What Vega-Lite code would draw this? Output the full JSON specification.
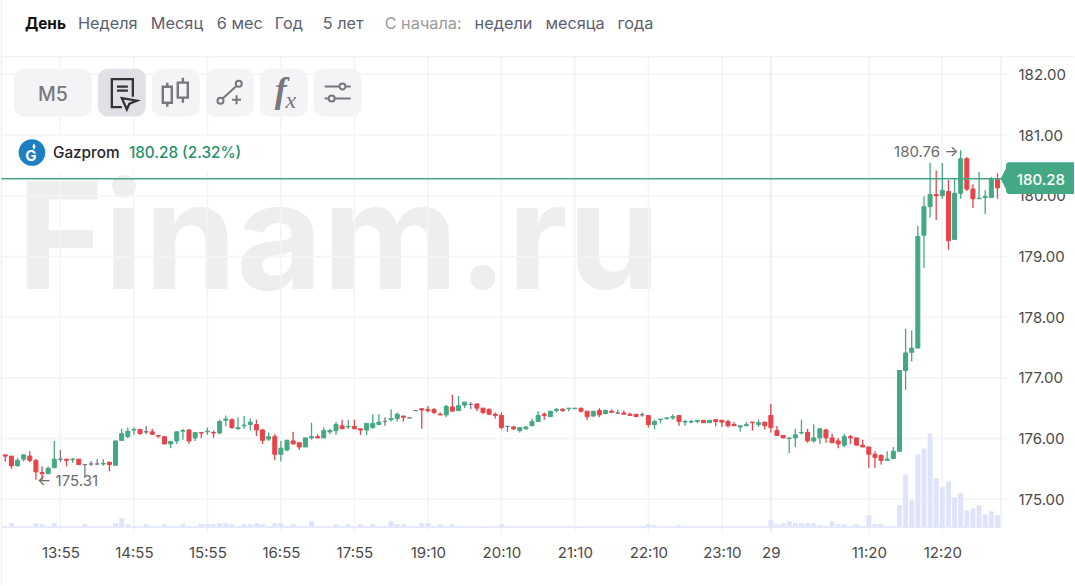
{"$schema":"https://vega.github.io/schema/vega-lite/v6.json","autosize":{"type":"fit","contains":"padding"},"width":1075,"height":586,"padding":0,"background":"#ffffff","view":{"stroke":null},"config":{"font":"Inter","view":{"stroke":null}},
"datasets":{
"prices":[{"p":175},{"p":176},{"p":177},{"p":178},{"p":179},{"p":180},{"p":181},{"p":182}],
"times":[{"i":9},{"i":21},{"i":33},{"i":45},{"i":57},{"i":69},{"i":81},{"i":93},{"i":105},{"i":117},{"i":141},{"i":153}],
"candles":[
{"i":0,"o":175.73,"c":175.71,"h":175.73,"l":175.62,"v":1,"d":"down"},
{"i":1,"o":175.71,"c":175.55,"h":175.71,"l":175.50,"v":4,"d":"down"},
{"i":2,"o":175.55,"c":175.64,"h":175.68,"l":175.54,"v":1,"d":"up"},
{"i":3,"o":175.66,"c":175.73,"h":175.74,"l":175.62,"v":1,"d":"up"},
{"i":4,"o":175.71,"c":175.64,"h":175.79,"l":175.61,"v":1,"d":"down"},
{"i":5,"o":175.64,"c":175.45,"h":175.66,"l":175.32,"v":4,"d":"down"},
{"i":6,"o":175.44,"c":175.42,"h":175.54,"l":175.31,"v":3,"d":"down"},
{"i":7,"o":175.42,"c":175.51,"h":175.54,"l":175.41,"v":1,"d":"up"},
{"i":8,"o":175.52,"c":175.66,"h":175.96,"l":175.51,"v":4,"d":"up"},
{"i":9,"o":175.66,"c":175.66,"h":175.81,"l":175.61,"v":1,"d":"flat"},
{"i":10,"o":175.66,"c":175.64,"h":175.66,"l":175.54,"v":1,"d":"down"},
{"i":11,"o":175.65,"c":175.66,"h":175.68,"l":175.60,"v":1,"d":"up"},
{"i":12,"o":175.66,"c":175.57,"h":175.66,"l":175.57,"v":1,"d":"down"},
{"i":13,"o":175.57,"c":175.57,"h":175.58,"l":175.37,"v":3,"d":"flat"},
{"i":14,"o":175.58,"c":175.58,"h":175.63,"l":175.55,"v":1,"d":"flat"},
{"i":15,"o":175.58,"c":175.58,"h":175.66,"l":175.56,"v":1,"d":"flat"},
{"i":16,"o":175.58,"c":175.59,"h":175.66,"l":175.55,"v":1,"d":"up"},
{"i":17,"o":175.61,"c":175.57,"h":175.61,"l":175.46,"v":1,"d":"down"},
{"i":18,"o":175.56,"c":175.96,"h":175.96,"l":175.55,"v":4,"d":"up"},
{"i":19,"o":175.97,"c":176.08,"h":176.16,"l":175.96,"v":9,"d":"up"},
{"i":20,"o":176.03,"c":176.12,"h":176.18,"l":176.01,"v":3,"d":"up"},
{"i":21,"o":176.14,"c":176.15,"h":176.18,"l":176.06,"v":1,"d":"up"},
{"i":22,"o":176.15,"c":176.08,"h":176.15,"l":176.06,"v":1,"d":"down"},
{"i":23,"o":176.11,"c":176.11,"h":176.20,"l":176.07,"v":3,"d":"flat"},
{"i":24,"o":176.11,"c":176.07,"h":176.16,"l":176.06,"v":1,"d":"down"},
{"i":25,"o":176.05,"c":176.04,"h":176.05,"l":176.01,"v":1,"d":"down"},
{"i":26,"o":176.03,"c":175.91,"h":176.03,"l":175.91,"v":3,"d":"down"},
{"i":27,"o":175.91,"c":175.95,"h":175.95,"l":175.84,"v":1,"d":"up"},
{"i":28,"o":175.96,"c":176.11,"h":176.12,"l":175.91,"v":1,"d":"up"},
{"i":29,"o":176.12,"c":176.13,"h":176.16,"l":175.98,"v":3,"d":"up"},
{"i":30,"o":176.14,"c":175.96,"h":176.16,"l":175.91,"v":1,"d":"down"},
{"i":31,"o":176.01,"c":176.10,"h":176.10,"l":175.96,"v":1,"d":"up"},
{"i":32,"o":176.10,"c":176.09,"h":176.10,"l":176.01,"v":3,"d":"down"},
{"i":33,"o":176.11,"c":176.12,"h":176.18,"l":176.06,"v":3,"d":"up"},
{"i":34,"o":176.10,"c":176.09,"h":176.13,"l":176.01,"v":3,"d":"down"},
{"i":35,"o":176.09,"c":176.28,"h":176.31,"l":176.07,"v":4,"d":"up"},
{"i":36,"o":176.30,"c":176.32,"h":176.38,"l":176.20,"v":4,"d":"up"},
{"i":37,"o":176.31,"c":176.18,"h":176.33,"l":176.16,"v":3,"d":"down"},
{"i":38,"o":176.16,"c":176.18,"h":176.35,"l":176.15,"v":1,"d":"up"},
{"i":39,"o":176.21,"c":176.22,"h":176.37,"l":176.16,"v":3,"d":"up"},
{"i":40,"o":176.23,"c":176.27,"h":176.33,"l":176.13,"v":3,"d":"up"},
{"i":41,"o":176.23,"c":176.14,"h":176.31,"l":176.04,"v":4,"d":"down"},
{"i":42,"o":176.14,"c":175.97,"h":176.16,"l":175.91,"v":3,"d":"down"},
{"i":43,"o":175.99,"c":176.03,"h":176.10,"l":175.96,"v":1,"d":"up"},
{"i":44,"o":176.03,"c":175.74,"h":176.07,"l":175.64,"v":4,"d":"down"},
{"i":45,"o":175.74,"c":175.84,"h":175.96,"l":175.62,"v":4,"d":"up"},
{"i":46,"o":175.81,"c":175.97,"h":175.98,"l":175.79,"v":1,"d":"up"},
{"i":47,"o":175.96,"c":175.91,"h":176.11,"l":175.91,"v":3,"d":"down"},
{"i":48,"o":175.93,"c":175.86,"h":175.93,"l":175.81,"v":1,"d":"down"},
{"i":49,"o":175.86,"c":176.01,"h":176.01,"l":175.86,"v":1,"d":"up"},
{"i":50,"o":176.01,"c":176.03,"h":176.26,"l":175.98,"v":6,"d":"up"},
{"i":51,"o":176.03,"c":176.01,"h":176.07,"l":176.01,"v":1,"d":"down"},
{"i":52,"o":176.01,"c":176.13,"h":176.18,"l":176.01,"v":1,"d":"up"},
{"i":53,"o":176.11,"c":176.13,"h":176.16,"l":176.07,"v":1,"d":"up"},
{"i":54,"o":176.13,"c":176.23,"h":176.27,"l":176.06,"v":3,"d":"up"},
{"i":55,"o":176.21,"c":176.16,"h":176.31,"l":176.16,"v":1,"d":"down"},
{"i":56,"o":176.19,"c":176.20,"h":176.31,"l":176.16,"v":3,"d":"up"},
{"i":57,"o":176.20,"c":176.16,"h":176.31,"l":176.16,"v":1,"d":"down"},
{"i":58,"o":176.16,"c":176.14,"h":176.16,"l":176.06,"v":3,"d":"down"},
{"i":59,"o":176.14,"c":176.25,"h":176.25,"l":176.06,"v":1,"d":"up"},
{"i":60,"o":176.18,"c":176.25,"h":176.40,"l":176.16,"v":3,"d":"up"},
{"i":61,"o":176.23,"c":176.27,"h":176.40,"l":176.22,"v":1,"d":"up"},
{"i":62,"o":176.28,"c":176.28,"h":176.35,"l":176.21,"v":1,"d":"flat"},
{"i":63,"o":176.31,"c":176.33,"h":176.48,"l":176.28,"v":6,"d":"up"},
{"i":64,"o":176.33,"c":176.40,"h":176.43,"l":176.28,"v":3,"d":"up"},
{"i":65,"o":176.37,"c":176.35,"h":176.37,"l":176.28,"v":3,"d":"down"},
{"i":66,"o":176.34,"c":176.34,"h":176.34,"l":176.34,"v":1,"d":"flat"},
{"i":67,"o":176.46,"c":176.46,"h":176.46,"l":176.46,"v":1,"d":"flat"},
{"i":68,"o":176.49,"c":176.47,"h":176.50,"l":176.16,"v":4,"d":"down"},
{"i":69,"o":176.48,"c":176.46,"h":176.53,"l":176.43,"v":4,"d":"down"},
{"i":70,"o":176.48,"c":176.43,"h":176.50,"l":176.40,"v":1,"d":"down"},
{"i":71,"o":176.40,"c":176.39,"h":176.43,"l":176.38,"v":3,"d":"down"},
{"i":72,"o":176.39,"c":176.53,"h":176.55,"l":176.35,"v":1,"d":"up"},
{"i":73,"o":176.52,"c":176.45,"h":176.72,"l":176.45,"v":3,"d":"down"},
{"i":74,"o":176.46,"c":176.54,"h":176.70,"l":176.45,"v":1,"d":"up"},
{"i":75,"o":176.55,"c":176.60,"h":176.60,"l":176.50,"v":1,"d":"up"},
{"i":76,"o":176.56,"c":176.56,"h":176.60,"l":176.48,"v":1,"d":"flat"},
{"i":77,"o":176.57,"c":176.50,"h":176.57,"l":176.45,"v":1,"d":"down"},
{"i":78,"o":176.50,"c":176.43,"h":176.50,"l":176.40,"v":1,"d":"down"},
{"i":79,"o":176.48,"c":176.40,"h":176.50,"l":176.39,"v":1,"d":"down"},
{"i":80,"o":176.40,"c":176.38,"h":176.43,"l":176.33,"v":1,"d":"down"},
{"i":81,"o":176.38,"c":176.18,"h":176.43,"l":176.15,"v":3,"d":"down"},
{"i":82,"o":176.20,"c":176.20,"h":176.20,"l":176.11,"v":1,"d":"flat"},
{"i":83,"o":176.19,"c":176.16,"h":176.21,"l":176.14,"v":1,"d":"down"},
{"i":84,"o":176.13,"c":176.18,"h":176.18,"l":176.10,"v":1,"d":"up"},
{"i":85,"o":176.16,"c":176.19,"h":176.20,"l":176.15,"v":1,"d":"up"},
{"i":86,"o":176.21,"c":176.28,"h":176.33,"l":176.20,"v":1,"d":"up"},
{"i":87,"o":176.28,"c":176.38,"h":176.45,"l":176.28,"v":1,"d":"up"},
{"i":88,"o":176.40,"c":176.38,"h":176.43,"l":176.31,"v":1,"d":"down"},
{"i":89,"o":176.36,"c":176.45,"h":176.45,"l":176.36,"v":1,"d":"up"},
{"i":90,"o":176.46,"c":176.48,"h":176.50,"l":176.43,"v":1,"d":"up"},
{"i":91,"o":176.48,"c":176.46,"h":176.50,"l":176.44,"v":1,"d":"down"},
{"i":92,"o":176.49,"c":176.50,"h":176.50,"l":176.45,"v":1,"d":"up"},
{"i":93,"o":176.49,"c":176.50,"h":176.50,"l":176.49,"v":1,"d":"up"},
{"i":94,"o":176.50,"c":176.45,"h":176.50,"l":176.43,"v":1,"d":"down"},
{"i":95,"o":176.45,"c":176.36,"h":176.45,"l":176.30,"v":1,"d":"down"},
{"i":96,"o":176.37,"c":176.45,"h":176.45,"l":176.36,"v":1,"d":"up"},
{"i":97,"o":176.46,"c":176.39,"h":176.50,"l":176.35,"v":1,"d":"down"},
{"i":98,"o":176.41,"c":176.46,"h":176.48,"l":176.40,"v":1,"d":"up"},
{"i":99,"o":176.45,"c":176.43,"h":176.48,"l":176.43,"v":1,"d":"down"},
{"i":100,"o":176.42,"c":176.42,"h":176.47,"l":176.40,"v":1,"d":"flat"},
{"i":101,"o":176.42,"c":176.40,"h":176.46,"l":176.40,"v":1,"d":"down"},
{"i":102,"o":176.40,"c":176.38,"h":176.43,"l":176.38,"v":1,"d":"down"},
{"i":103,"o":176.40,"c":176.36,"h":176.40,"l":176.36,"v":1,"d":"down"},
{"i":104,"o":176.39,"c":176.39,"h":176.43,"l":176.36,"v":1,"d":"flat"},
{"i":105,"o":176.38,"c":176.23,"h":176.38,"l":176.18,"v":3,"d":"down"},
{"i":106,"o":176.23,"c":176.28,"h":176.31,"l":176.15,"v":2,"d":"up"},
{"i":107,"o":176.31,"c":176.32,"h":176.32,"l":176.25,"v":1,"d":"up"},
{"i":108,"o":176.33,"c":176.34,"h":176.34,"l":176.31,"v":1,"d":"up"},
{"i":109,"o":176.34,"c":176.36,"h":176.40,"l":176.31,"v":1,"d":"up"},
{"i":110,"o":176.38,"c":176.28,"h":176.38,"l":176.21,"v":2,"d":"down"},
{"i":111,"o":176.27,"c":176.28,"h":176.31,"l":176.21,"v":1,"d":"up"},
{"i":112,"o":176.27,"c":176.28,"h":176.31,"l":176.25,"v":1,"d":"up"},
{"i":113,"o":176.28,"c":176.30,"h":176.30,"l":176.25,"v":1,"d":"up"},
{"i":114,"o":176.30,"c":176.26,"h":176.30,"l":176.26,"v":1,"d":"down"},
{"i":115,"o":176.26,"c":176.30,"h":176.30,"l":176.26,"v":1,"d":"up"},
{"i":116,"o":176.31,"c":176.28,"h":176.31,"l":176.20,"v":1,"d":"down"},
{"i":117,"o":176.30,"c":176.27,"h":176.31,"l":176.19,"v":1,"d":"down"},
{"i":118,"o":176.28,"c":176.21,"h":176.31,"l":176.18,"v":1,"d":"down"},
{"i":119,"o":176.23,"c":176.21,"h":176.27,"l":176.21,"v":1,"d":"down"},
{"i":120,"o":176.19,"c":176.21,"h":176.21,"l":176.11,"v":1,"d":"up"},
{"i":121,"o":176.21,"c":176.23,"h":176.27,"l":176.21,"v":1,"d":"up"},
{"i":122,"o":176.27,"c":176.26,"h":176.27,"l":176.13,"v":1,"d":"down"},
{"i":123,"o":176.23,"c":176.26,"h":176.31,"l":176.19,"v":1,"d":"up"},
{"i":124,"o":176.27,"c":176.21,"h":176.27,"l":176.15,"v":1,"d":"down"},
{"i":125,"o":176.38,"c":176.18,"h":176.57,"l":176.10,"v":7,"d":"down"},
{"i":126,"o":176.13,"c":176.05,"h":176.21,"l":176.04,"v":3,"d":"down"},
{"i":127,"o":176.05,"c":176.01,"h":176.05,"l":176.01,"v":4,"d":"down"},
{"i":128,"o":176.00,"c":176.01,"h":176.01,"l":175.76,"v":6,"d":"up"},
{"i":129,"o":176.01,"c":176.06,"h":176.16,"l":175.86,"v":4,"d":"up"},
{"i":130,"o":176.09,"c":176.10,"h":176.31,"l":176.07,"v":4,"d":"up"},
{"i":131,"o":176.10,"c":175.96,"h":176.16,"l":175.93,"v":4,"d":"down"},
{"i":132,"o":175.96,"c":176.01,"h":176.23,"l":175.93,"v":4,"d":"up"},
{"i":133,"o":176.01,"c":176.16,"h":176.16,"l":175.91,"v":2,"d":"up"},
{"i":134,"o":176.14,"c":176.01,"h":176.16,"l":175.93,"v":1,"d":"down"},
{"i":135,"o":176.01,"c":175.93,"h":176.08,"l":175.93,"v":6,"d":"down"},
{"i":136,"o":175.96,"c":175.91,"h":176.01,"l":175.84,"v":3,"d":"down"},
{"i":137,"o":175.89,"c":176.03,"h":176.08,"l":175.86,"v":3,"d":"up"},
{"i":138,"o":176.03,"c":176.01,"h":176.06,"l":175.91,"v":1,"d":"down"},
{"i":139,"o":176.01,"c":175.89,"h":176.01,"l":175.89,"v":3,"d":"down"},
{"i":140,"o":175.89,"c":175.86,"h":175.98,"l":175.86,"v":1,"d":"down"},
{"i":141,"o":175.86,"c":175.74,"h":175.86,"l":175.52,"v":12,"d":"down"},
{"i":142,"o":175.74,"c":175.69,"h":175.79,"l":175.52,"v":3,"d":"down"},
{"i":143,"o":175.72,"c":175.64,"h":175.74,"l":175.57,"v":3,"d":"down"},
{"i":144,"o":175.64,"c":175.66,"h":175.79,"l":175.64,"v":1,"d":"up"},
{"i":145,"o":175.67,"c":175.79,"h":175.86,"l":175.66,"v":1,"d":"up"},
{"i":146,"o":175.79,"c":177.12,"h":177.12,"l":175.79,"v":22,"d":"up"},
{"i":147,"o":177.12,"c":177.41,"h":177.81,"l":176.80,"v":53,"d":"up"},
{"i":148,"o":177.42,"c":177.49,"h":177.78,"l":177.27,"v":27,"d":"up"},
{"i":149,"o":177.49,"c":179.33,"h":179.50,"l":177.49,"v":73,"d":"up"},
{"i":150,"o":179.35,"c":179.82,"h":179.99,"l":178.81,"v":79,"d":"up"},
{"i":151,"o":179.82,"c":180.02,"h":180.54,"l":179.64,"v":94,"d":"up"},
{"i":152,"o":180.02,"c":180.00,"h":180.41,"l":179.60,"v":49,"d":"down"},
{"i":153,"o":180.00,"c":180.09,"h":180.54,"l":179.95,"v":40,"d":"up"},
{"i":154,"o":180.07,"c":179.26,"h":180.26,"l":179.11,"v":46,"d":"down"},
{"i":155,"o":179.28,"c":180.04,"h":180.29,"l":179.28,"v":30,"d":"up"},
{"i":156,"o":180.04,"c":180.61,"h":180.75,"l":179.95,"v":34,"d":"up"},
{"i":157,"o":180.61,"c":180.11,"h":180.64,"l":180.08,"v":17,"d":"down"},
{"i":158,"o":180.11,"c":179.95,"h":180.19,"l":179.80,"v":19,"d":"down"},
{"i":159,"o":179.95,"c":179.96,"h":180.39,"l":179.95,"v":22,"d":"up"},
{"i":160,"o":179.97,"c":179.99,"h":180.09,"l":179.70,"v":13,"d":"up"},
{"i":161,"o":179.97,"c":180.27,"h":180.31,"l":179.97,"v":16,"d":"up"},
{"i":162,"o":180.27,"c":180.13,"h":180.37,"l":179.95,"v":12,"d":"down"}
]},
"resolve":{"scale":{"x":"independent","y":"independent","fill":"independent","stroke":"independent"},"axis":{"x":"independent","y":"independent"}},
"layer":[
{"data":{"values":[{"t":"Finam.ru"}]},"mark":{"type":"text","font":"Inter","fontWeight":700,"fontSize":148.3,"align":"left","baseline":"alphabetic","fill":"#eeeeee"},"encoding":{"x":{"datum":17,"type":"quantitative","scale":{"domain":[0,1075],"nice":false,"zero":false},"axis":null},"y":{"datum":288.7,"type":"quantitative","scale":{"domain":[586,0],"nice":false,"zero":false},"axis":null},"text":{"field":"t"}}},
{"layer":[
{"data":{"name":"prices"},"mark":{"type":"rule","stroke":"#f3f4f6","strokeWidth":1.5},"encoding":{"x":{"datum":-0.62,"type":"quantitative","scale":{"domain":[-0.8646,174.5],"padding":0,"nice":false,"zero":false},"axis":null},"x2":{"datum":163.57},"y":{"field":"p","type":"quantitative","scale":{"domain":[173.586,183.209],"nice":false,"zero":false},"axis":null}}},
{"data":{"name":"times"},"mark":{"type":"rule","stroke":"#f3f4f6","strokeWidth":1.5},"encoding":{"x":{"field":"i","type":"quantitative","scale":{"domain":[-0.8646,174.5],"padding":0,"nice":false,"zero":false},"axis":null},"y":{"datum":182.29,"type":"quantitative","scale":{"domain":[173.586,183.209],"nice":false,"zero":false},"axis":null},"y2":{"datum":174.44}}},
{"data":{"values":[{"i":125}]},"mark":{"type":"rule","stroke":"#e9eaee","strokeWidth":1.5},"encoding":{"x":{"field":"i","type":"quantitative","scale":{"domain":[-0.8646,174.5],"padding":0,"nice":false,"zero":false},"axis":null},"y":{"datum":182.29,"type":"quantitative","scale":{"domain":[173.586,183.209],"nice":false,"zero":false},"axis":null},"y2":{"datum":174.44}}},
{"data":{"values":[{"i":162.6}]},"mark":{"type":"rule","stroke":"#eeeff2","strokeWidth":1.5},"encoding":{"x":{"field":"i","type":"quantitative","scale":{"domain":[-0.8646,174.5],"padding":0,"nice":false,"zero":false},"axis":null},"y":{"datum":182.29,"type":"quantitative","scale":{"domain":[173.586,183.209],"nice":false,"zero":false},"axis":null},"y2":{"datum":174.54}}},
{"data":{"values":[{"i":-0.62}]},"mark":{"type":"rule","stroke":"#eeeeee","strokeWidth":1.5},"encoding":{"x":{"field":"i","type":"quantitative","scale":{"domain":[-0.8646,174.5],"padding":0,"nice":false,"zero":false},"axis":null},"y":{"datum":183.209,"type":"quantitative","scale":{"domain":[173.586,183.209],"nice":false,"zero":false},"axis":null},"y2":{"datum":173.586}}},
{"data":{"values":[{"p":182.29}]},"mark":{"type":"rule","stroke":"#eeeeee","strokeWidth":1.2},"encoding":{"x":{"datum":-0.62,"type":"quantitative","scale":{"domain":[-0.8646,174.5],"padding":0,"nice":false,"zero":false},"axis":null},"x2":{"datum":174.5},"y":{"field":"p","type":"quantitative","scale":{"domain":[173.586,183.209],"nice":false,"zero":false},"axis":null}}}
]},
{"layer":[
{"data":{"name":"candles"},"mark":{"type":"bar","width":5,"fill":"#dfe4fc","orient":"vertical"},"encoding":{"x":{"field":"i","type":"quantitative","scale":{"domain":[-0.8646,174.5],"padding":0,"nice":false,"zero":false},"axis":null},"y":{"field":"v","type":"quantitative","stack":null,"scale":{"domain":[-58,528],"nice":false,"zero":false},"axis":null}}},
{"data":{"values":[{"v":0}]},"mark":{"type":"rule","stroke":"#e6e9fb","strokeWidth":1.5},"encoding":{"x":{"datum":-0.62,"type":"quantitative","scale":{"domain":[-0.8646,174.5],"padding":0,"nice":false,"zero":false},"axis":null},"x2":{"datum":162.6},"y":{"field":"v","type":"quantitative","scale":{"domain":[-58,528],"nice":false,"zero":false},"axis":null}}}
]},
{"data":{"name":"candles"},"mark":{"type":"rule","strokeWidth":1.3},"encoding":{
"x":{"field":"i","type":"quantitative","scale":{"domain":[-0.8646,174.5],"padding":0,"nice":false,"zero":false},"axis":{"orient":"bottom","title":null,"values":[9,21,33,45,57,69,81,93,105,117,125,141,153],"labelExpr":"{'9':'13:55','21':'14:55','33':'15:55','45':'16:55','57':'17:55','69':'19:10','81':'20:10','93':'21:10','105':'22:10','117':'23:10','125':'29','141':'11:20','153':'12:20'}[datum.value]","offset":-33,"tickSize":0,"domain":false,"grid":false,"labelPadding":0,"labelBaseline":"middle","labelFontSize":15,"labelFont":"Inter","labelColor":"#4a4a4a","labelOverlap":false,"labelFlush":false}},
"y":{"field":"l","type":"quantitative","scale":{"domain":[173.586,183.209],"nice":false,"zero":false},"axis":{"orient":"right","title":null,"values":[175,176,177,178,179,180,181,182],"format":".2f","offset":-56,"tickSize":0,"domain":false,"grid":false,"labelPadding":0,"labelAlign":"left","labelBaseline":"middle","labelFontSize":15,"labelFont":"Inter","labelColor":"#4a4a4a","labelOverlap":false,"labelFlush":false}},
"y2":{"field":"h"},
"stroke":{"field":"d","type":"nominal","scale":{"domain":["up","down","flat"],"range":["#45a884","#e8434a","#77778a"]},"legend":null}}},
{"layer":[
{"data":{"name":"candles"},"mark":{"type":"bar","width":4,"strokeWidth":1,"orient":"vertical"},"encoding":{
"x":{"field":"i","type":"quantitative","scale":{"domain":[-0.8646,174.5],"padding":0,"nice":false,"zero":false},"axis":null},
"y":{"field":"o","type":"quantitative","stack":null,"scale":{"domain":[173.586,183.209],"nice":false,"zero":false},"axis":null},
"y2":{"field":"c"},
"fill":{"field":"d","type":"nominal","scale":{"domain":["up","down","flat"],"range":["#45a884","#e8434a","#77778a"]},"legend":null},
"stroke":{"field":"d","type":"nominal","scale":{"domain":["up","down","flat"],"range":["#45a884","#e8434a","#77778a"]},"legend":null}}},
{"data":{"values":[{"p":180.28}]},"mark":{"type":"rule","stroke":"#45a884","strokeWidth":1.5},"encoding":{"x":{"datum":-0.62,"type":"quantitative","scale":{"domain":[-0.8646,174.5],"padding":0,"nice":false,"zero":false},"axis":null},"x2":{"datum":163.57},"y":{"field":"p","type":"quantitative","scale":{"domain":[173.586,183.209],"nice":false,"zero":false},"axis":null}}},
{"data":{"values":[{"i":6,"p":175.31,"t":"← 175.31"}]},"mark":{"type":"text","font":"Inter","fontSize":15,"align":"left","dx":-5,"dy":1,"fill":"#6b6b6b"},"encoding":{"x":{"field":"i","type":"quantitative","scale":{"domain":[-0.8646,174.5],"padding":0,"nice":false,"zero":false},"axis":null},"y":{"field":"p","type":"quantitative","scale":{"domain":[173.586,183.209],"nice":false,"zero":false},"axis":null},"text":{"field":"t"}}},
{"data":{"values":[{"i":156,"p":180.76,"t":"180.76 →"}]},"mark":{"type":"text","font":"Inter","fontSize":15,"align":"right","dx":-2,"dy":2,"fill":"#6b6b6b"},"encoding":{"x":{"field":"i","type":"quantitative","scale":{"domain":[-0.8646,174.5],"padding":0,"nice":false,"zero":false},"axis":null},"y":{"field":"p","type":"quantitative","scale":{"domain":[173.586,183.209],"nice":false,"zero":false},"axis":null},"text":{"field":"t"}}},
{"data":{"values":[{"p":180.28}]},"mark":{"type":"rect","fill":"#45a884","cornerRadiusTopLeft":3,"cornerRadiusBottomLeft":3},"encoding":{"x":{"datum":163.4,"type":"quantitative","scale":{"domain":[-0.8646,174.5],"padding":0,"nice":false,"zero":false},"axis":null},"x2":{"datum":174.5},"y":{"datum":180.55,"type":"quantitative","scale":{"domain":[173.586,183.209],"nice":false,"zero":false},"axis":null},"y2":{"datum":180.03}}},
{"data":{"values":[{"p":180.28}]},"mark":{"type":"point","shape":"M0.1,-1L-0.38,-0.06Q-0.4,0,-0.38,0.06L0.1,1Z","size":961,"filled":true,"fill":"#45a884","opacity":1,"stroke":null},"encoding":{"x":{"datum":163.57,"type":"quantitative","scale":{"domain":[-0.8646,174.5],"padding":0,"nice":false,"zero":false},"axis":null},"y":{"field":"p","type":"quantitative","scale":{"domain":[173.586,183.209],"nice":false,"zero":false},"axis":null}}},
{"data":{"values":[{"p":180.28,"t":"180.28"}]},"mark":{"type":"text","font":"Inter","fontSize":15,"fontWeight":500,"align":"center","fill":"#ffffff","dy":1},"encoding":{"x":{"datum":169.1,"type":"quantitative","scale":{"domain":[-0.8646,174.5],"padding":0,"nice":false,"zero":false},"axis":null},"y":{"field":"p","type":"quantitative","scale":{"domain":[173.586,183.209],"nice":false,"zero":false},"axis":null},"text":{"field":"t"}}}
]},
{"layer":[
{"data":{"values":[{"t":"день"}]},"mark":{"type":"rect","fill":"#ffffff"},"encoding":{"x":{"datum":3,"type":"quantitative","scale":{"domain":[0,1075],"nice":false,"zero":false},"axis":null},"x2":{"datum":245},"y":{"datum":137,"type":"quantitative","scale":{"domain":[586,0],"nice":false,"zero":false},"axis":null},"y2":{"datum":170}}},
{"data":{"values":[{"t":"День"}]},"mark":{"type":"text","font":"Inter","fontSize":15.3,"fontWeight":700,"align":"left","fill":"#111111"},"encoding":{"x":{"datum":25,"type":"quantitative","scale":{"domain":[0,1075],"nice":false,"zero":false},"axis":null},"y":{"datum":23.5,"type":"quantitative","scale":{"domain":[586,0],"nice":false,"zero":false},"axis":null},"text":{"field":"t"}}},
{"data":{"values":[{"t":"Неделя"}]},"mark":{"type":"text","font":"Inter","fontSize":16.3,"align":"left","fill":"#5c6070"},"encoding":{"x":{"datum":78,"type":"quantitative","scale":{"domain":[0,1075],"nice":false,"zero":false},"axis":null},"y":{"datum":23.5,"type":"quantitative","scale":{"domain":[586,0],"nice":false,"zero":false},"axis":null},"text":{"field":"t"}}},
{"data":{"values":[{"t":"Месяц"}]},"mark":{"type":"text","font":"Inter","fontSize":16.3,"align":"left","fill":"#5c6070"},"encoding":{"x":{"datum":151,"type":"quantitative","scale":{"domain":[0,1075],"nice":false,"zero":false},"axis":null},"y":{"datum":23.5,"type":"quantitative","scale":{"domain":[586,0],"nice":false,"zero":false},"axis":null},"text":{"field":"t"}}},
{"data":{"values":[{"t":"6 мес"}]},"mark":{"type":"text","font":"Inter","fontSize":16.3,"align":"left","fill":"#5c6070"},"encoding":{"x":{"datum":217,"type":"quantitative","scale":{"domain":[0,1075],"nice":false,"zero":false},"axis":null},"y":{"datum":23.5,"type":"quantitative","scale":{"domain":[586,0],"nice":false,"zero":false},"axis":null},"text":{"field":"t"}}},
{"data":{"values":[{"t":"Год"}]},"mark":{"type":"text","font":"Inter","fontSize":16.3,"align":"left","fill":"#5c6070"},"encoding":{"x":{"datum":275,"type":"quantitative","scale":{"domain":[0,1075],"nice":false,"zero":false},"axis":null},"y":{"datum":23.5,"type":"quantitative","scale":{"domain":[586,0],"nice":false,"zero":false},"axis":null},"text":{"field":"t"}}},
{"data":{"values":[{"t":"5 лет"}]},"mark":{"type":"text","font":"Inter","fontSize":16.3,"align":"left","fill":"#5c6070"},"encoding":{"x":{"datum":323,"type":"quantitative","scale":{"domain":[0,1075],"nice":false,"zero":false},"axis":null},"y":{"datum":23.5,"type":"quantitative","scale":{"domain":[586,0],"nice":false,"zero":false},"axis":null},"text":{"field":"t"}}},
{"data":{"values":[{"t":"С начала:"}]},"mark":{"type":"text","font":"Inter","fontSize":16.3,"align":"left","fill":"#9a9a9a"},"encoding":{"x":{"datum":385,"type":"quantitative","scale":{"domain":[0,1075],"nice":false,"zero":false},"axis":null},"y":{"datum":23.5,"type":"quantitative","scale":{"domain":[586,0],"nice":false,"zero":false},"axis":null},"text":{"field":"t"}}},
{"data":{"values":[{"t":"недели"}]},"mark":{"type":"text","font":"Inter","fontSize":16.3,"align":"left","fill":"#5c6070"},"encoding":{"x":{"datum":475,"type":"quantitative","scale":{"domain":[0,1075],"nice":false,"zero":false},"axis":null},"y":{"datum":23.5,"type":"quantitative","scale":{"domain":[586,0],"nice":false,"zero":false},"axis":null},"text":{"field":"t"}}},
{"data":{"values":[{"t":"месяца"}]},"mark":{"type":"text","font":"Inter","fontSize":16.3,"align":"left","fill":"#5c6070"},"encoding":{"x":{"datum":546,"type":"quantitative","scale":{"domain":[0,1075],"nice":false,"zero":false},"axis":null},"y":{"datum":23.5,"type":"quantitative","scale":{"domain":[586,0],"nice":false,"zero":false},"axis":null},"text":{"field":"t"}}},
{"data":{"values":[{"t":"года"}]},"mark":{"type":"text","font":"Inter","fontSize":16.3,"align":"left","fill":"#5c6070"},"encoding":{"x":{"datum":618,"type":"quantitative","scale":{"domain":[0,1075],"nice":false,"zero":false},"axis":null},"y":{"datum":23.5,"type":"quantitative","scale":{"domain":[586,0],"nice":false,"zero":false},"axis":null},"text":{"field":"t"}}},
{"data":{"values":[{"t":"m5"}]},"mark":{"type":"rect","fill":"#f4f4f6","cornerRadius":10},"encoding":{"x":{"datum":14,"type":"quantitative","scale":{"domain":[0,1075],"nice":false,"zero":false},"axis":null},"x2":{"datum":92},"y":{"datum":68,"type":"quantitative","scale":{"domain":[586,0],"nice":false,"zero":false},"axis":null},"y2":{"datum":116}}},
{"data":{"values":[{"t":"doc"}]},"mark":{"type":"rect","fill":"#e0e0e6","cornerRadius":10},"encoding":{"x":{"datum":98,"type":"quantitative","scale":{"domain":[0,1075],"nice":false,"zero":false},"axis":null},"x2":{"datum":146},"y":{"datum":68,"type":"quantitative","scale":{"domain":[586,0],"nice":false,"zero":false},"axis":null},"y2":{"datum":116}}},
{"data":{"values":[{"t":"candles"}]},"mark":{"type":"rect","fill":"#f4f4f6","cornerRadius":10},"encoding":{"x":{"datum":152,"type":"quantitative","scale":{"domain":[0,1075],"nice":false,"zero":false},"axis":null},"x2":{"datum":200},"y":{"datum":68,"type":"quantitative","scale":{"domain":[586,0],"nice":false,"zero":false},"axis":null},"y2":{"datum":116}}},
{"data":{"values":[{"t":"draw"}]},"mark":{"type":"rect","fill":"#f4f4f6","cornerRadius":10},"encoding":{"x":{"datum":206,"type":"quantitative","scale":{"domain":[0,1075],"nice":false,"zero":false},"axis":null},"x2":{"datum":254},"y":{"datum":68,"type":"quantitative","scale":{"domain":[586,0],"nice":false,"zero":false},"axis":null},"y2":{"datum":116}}},
{"data":{"values":[{"t":"fx"}]},"mark":{"type":"rect","fill":"#f4f4f6","cornerRadius":10},"encoding":{"x":{"datum":260,"type":"quantitative","scale":{"domain":[0,1075],"nice":false,"zero":false},"axis":null},"x2":{"datum":308},"y":{"datum":68,"type":"quantitative","scale":{"domain":[586,0],"nice":false,"zero":false},"axis":null},"y2":{"datum":116}}},
{"data":{"values":[{"t":"settings"}]},"mark":{"type":"rect","fill":"#f4f4f6","cornerRadius":10},"encoding":{"x":{"datum":314,"type":"quantitative","scale":{"domain":[0,1075],"nice":false,"zero":false},"axis":null},"x2":{"datum":362},"y":{"datum":68,"type":"quantitative","scale":{"domain":[586,0],"nice":false,"zero":false},"axis":null},"y2":{"datum":116}}},
{"data":{"values":[{"t":"M5"}]},"mark":{"type":"text","font":"Inter","fontSize":19.5,"fontWeight":500,"align":"center","fill":"#7a7a7e"},"encoding":{"x":{"datum":53,"type":"quantitative","scale":{"domain":[0,1075],"nice":false,"zero":false},"axis":null},"y":{"datum":94,"type":"quantitative","scale":{"domain":[586,0],"nice":false,"zero":false},"axis":null},"text":{"field":"t"}}},
{"data":{"values":[{"t":"doc icon"}]},"mark":{"type":"point","shape":"M0,0.9L-0.67,0.9L-0.67,-0.97L0.73,-0.97L0.73,0.2M-0.33,-0.47L0.4,-0.47M-0.33,-0.2L0.4,-0.2M0,0.3L1,0.47L0.5,0.67L0.33,1.05Z","size":900,"filled":false,"stroke":"#333338","strokeWidth":2.3,"opacity":1},"encoding":{"x":{"datum":122,"type":"quantitative","scale":{"domain":[0,1075],"nice":false,"zero":false},"axis":null},"y":{"datum":93,"type":"quantitative","scale":{"domain":[586,0],"nice":false,"zero":false},"axis":null}}},
{"data":{"values":[{"t":"candles icon"}]},"mark":{"type":"point","shape":"M-0.87,-0.4L-0.27,-0.4L-0.27,0.67L-0.87,0.67ZM-0.57,-0.67L-0.57,-0.4M-0.57,0.67L-0.57,0.93M0.13,-0.67L0.8,-0.67L0.8,0.33L0.13,0.33ZM0.47,-1L0.47,-0.67M0.47,0.33L0.47,0.67","size":900,"filled":false,"stroke":"#77777c","strokeWidth":2.4,"opacity":1},"encoding":{"x":{"datum":176,"type":"quantitative","scale":{"domain":[0,1075],"nice":false,"zero":false},"axis":null},"y":{"datum":92,"type":"quantitative","scale":{"domain":[586,0],"nice":false,"zero":false},"axis":null}}},
{"data":{"values":[{"t":"draw icon"}]},"mark":{"type":"point","shape":"M-0.42,0.53A0.2,0.2 0 1 1 -0.82,0.53A0.2,0.2 0 1 1 -0.42,0.53ZM0.8,-0.6A0.2,0.2 0 1 1 0.4,-0.6A0.2,0.2 0 1 1 0.8,-0.6ZM-0.47,0.38L0.46,-0.46M0.15,0.47L0.75,0.47M0.45,0.17L0.45,0.77","size":900,"filled":false,"stroke":"#77777c","strokeWidth":2,"opacity":1},"encoding":{"x":{"datum":230,"type":"quantitative","scale":{"domain":[0,1075],"nice":false,"zero":false},"axis":null},"y":{"datum":92,"type":"quantitative","scale":{"domain":[586,0],"nice":false,"zero":false},"axis":null}}},
{"data":{"values":[{"t":"f"}]},"mark":{"type":"text","font":"Liberation Serif","fontStyle":"italic","fontWeight":700,"fontSize":36,"align":"center","baseline":"alphabetic","fill":"#77777c"},"encoding":{"x":{"datum":281,"type":"quantitative","scale":{"domain":[0,1075],"nice":false,"zero":false},"axis":null},"y":{"datum":101,"type":"quantitative","scale":{"domain":[586,0],"nice":false,"zero":false},"axis":null},"text":{"field":"t"}}},
{"data":{"values":[{"t":"x"}]},"mark":{"type":"text","font":"Liberation Serif","fontStyle":"italic","fontSize":24,"align":"center","baseline":"alphabetic","fill":"#77777c"},"encoding":{"x":{"datum":291,"type":"quantitative","scale":{"domain":[0,1075],"nice":false,"zero":false},"axis":null},"y":{"datum":107,"type":"quantitative","scale":{"domain":[586,0],"nice":false,"zero":false},"axis":null},"text":{"field":"t"}}},
{"data":{"values":[{"t":"settings icon"}]},"mark":{"type":"point","shape":"M-0.87,-0.42L0.12,-0.42M0.52,-0.42L0.87,-0.42M0.52,-0.42A0.2,0.2 0 1 1 0.12,-0.42A0.2,0.2 0 1 1 0.52,-0.42ZM-0.87,0.38L-0.6,0.38M-0.2,0.38L0.87,0.38M-0.2,0.38A0.2,0.2 0 1 1 -0.6,0.38A0.2,0.2 0 1 1 -0.2,0.38Z","size":900,"filled":false,"stroke":"#77777c","strokeWidth":2,"opacity":1},"encoding":{"x":{"datum":338,"type":"quantitative","scale":{"domain":[0,1075],"nice":false,"zero":false},"axis":null},"y":{"datum":92,"type":"quantitative","scale":{"domain":[586,0],"nice":false,"zero":false},"axis":null}}},
{"data":{"values":[{"t":"logo"}]},"mark":{"type":"point","shape":"circle","size":707,"filled":true,"fill":"#1c7fc2","opacity":1,"stroke":null},"encoding":{"x":{"datum":32,"type":"quantitative","scale":{"domain":[0,1075],"nice":false,"zero":false},"axis":null},"y":{"datum":152,"type":"quantitative","scale":{"domain":[586,0],"nice":false,"zero":false},"axis":null}}},
{"data":{"values":[{"t":"G"}]},"mark":{"type":"text","font":"Inter","fontSize":15,"fontWeight":700,"align":"center","fill":"#ffffff"},"encoding":{"x":{"datum":31,"type":"quantitative","scale":{"domain":[0,1075],"nice":false,"zero":false},"axis":null},"y":{"datum":156,"type":"quantitative","scale":{"domain":[586,0],"nice":false,"zero":false},"axis":null},"text":{"field":"t"}}},
{"data":{"values":[{"t":"flame"}]},"mark":{"type":"point","shape":"M0,-1C0.6,-0.3 0.7,0.4 0,1C-0.7,0.4 -0.6,-0.3 0,-1Z","size":36,"filled":true,"fill":"#ffffff","opacity":1,"stroke":null},"encoding":{"x":{"datum":34,"type":"quantitative","scale":{"domain":[0,1075],"nice":false,"zero":false},"axis":null},"y":{"datum":146,"type":"quantitative","scale":{"domain":[586,0],"nice":false,"zero":false},"axis":null}}},
{"data":{"values":[{"t":"Gazprom"}]},"mark":{"type":"text","font":"Inter","fontSize":15.3,"fontWeight":500,"align":"left","fill":"#26262b"},"encoding":{"x":{"datum":53,"type":"quantitative","scale":{"domain":[0,1075],"nice":false,"zero":false},"axis":null},"y":{"datum":153,"type":"quantitative","scale":{"domain":[586,0],"nice":false,"zero":false},"axis":null},"text":{"field":"t"}}},
{"data":{"values":[{"t":"180.28 (2.32%)"}]},"mark":{"type":"text","font":"Inter","fontSize":15.3,"fontWeight":500,"align":"left","fill":"#24906b"},"encoding":{"x":{"datum":129,"type":"quantitative","scale":{"domain":[0,1075],"nice":false,"zero":false},"axis":null},"y":{"datum":153,"type":"quantitative","scale":{"domain":[586,0],"nice":false,"zero":false},"axis":null},"text":{"field":"t"}}}
]}
]}
